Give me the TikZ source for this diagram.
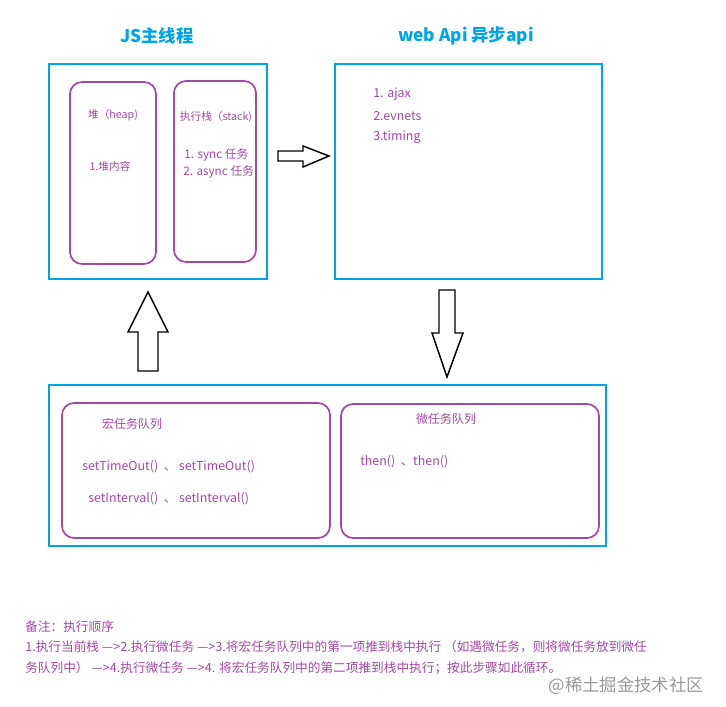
\documentclass[tikz,border=0pt]{standalone}
\usepackage{fontspec}
\setmainfont{Noto Sans CJK SC}
\usepackage{tikz}

\definecolor{paintblue}{RGB}{0,162,232}
\definecolor{paintpurple}{RGB}{163,73,164}

\tikzset{
  bluebox/.style={draw=paintblue, line width=1.6pt},
  purplebox/.style={draw=paintpurple, line width=1.3pt, rounded corners=9pt},
  blockarrow/.style={draw=black, line width=1.1pt, fill=white},
  title/.style={text=paintblue, font=\fontsize{13}{15}\selectfont\bfseries, inner sep=0.75pt},
  boxtext/.style={text=paintpurple, font=\fontsize{8}{10}\selectfont, inner sep=0.75pt},
  itemtext/.style={boxtext, font=\fontsize{9.3}{11}\selectfont, anchor=west},
  notetext/.style={text=paintpurple, font=\fontsize{9.5}{11}\selectfont, inner sep=0.75pt, anchor=west},
}

\begin{document}
\begin{tikzpicture}[x=0.75pt,y=0.75pt,yscale=-1,xscale=1]
%set diagram left start at 0, and has height of 707
\path (0,0) rectangle (726,707);

% Text Node
\node [title] (jstitle) at (157,36) {JS主线程};
% Text Node
\node [title] (webtitle) at (466,36) {web Api 异步api};

%Shape: Rectangle [id:main]
\draw [bluebox] (49,64) rectangle (267,279);
%Shape: Rectangle [id:heap]
\draw [purplebox] (70,82) rectangle (156,264);
%Shape: Rectangle [id:stack]
\draw [purplebox] (174,81) rectangle (256,262);

% Text Node
\node [boxtext] (heaplabel) at (113,115) {堆（heap)};
\node [boxtext] (heapitem) at (110,166) {1.堆内容};
\node [boxtext] (stacklabel) at (216,117) {执行栈（stack)};
\node [boxtext, font=\fontsize{8.8}{10}\selectfont, anchor=west] (sync) at (183,155) {1. sync 任务};
\node [boxtext, font=\fontsize{8.8}{10}\selectfont, anchor=west] (async) at (182,172) {2. async 任务};

%Shape: Right Arrow [id:toweb]
\draw [blockarrow] (278,151) -- (303,151) -- (303,146) -- (329,156) -- (303,167) -- (303,161) -- (278,161) -- cycle ;

%Shape: Rectangle [id:webapi]
\draw [bluebox] (335,64) rectangle (602,279);
% Text Node
\node [itemtext] (ajax) at (372,94) {1. ajax};
\node [itemtext] (events) at (372,116) {2.evnets};
\node [itemtext] (timing) at (372,137) {3.timing};

%Shape: Down Arrow [id:toqueue]
\draw [blockarrow] (439,290) -- (455,290) -- (455,333) -- (463,333) -- (447,377) -- (432,333) -- (439,333) -- cycle ;
%Shape: Up Arrow [id:tomain]
\draw [blockarrow] (138,371) -- (158,371) -- (158,332) -- (168,332) -- (148,292) -- (128,332) -- (138,332) -- cycle ;

%Shape: Rectangle [id:queues]
\draw [bluebox] (49,385) rectangle (606,546);
%Shape: Rectangle [id:macro]
\draw [purplebox] (62,403) rectangle (330,538);
%Shape: Rectangle [id:micro]
\draw [purplebox] (341,404) rectangle (599,538);

% Text Node
\node [boxtext, font=\fontsize{9}{11}\selectfont] (macrolabel) at (132,424) {宏任务队列};
\node [itemtext] (timeout) at (81,467) {setTimeOut() \ 、 setTimeOut()};
\node [itemtext] (interval) at (87,499) {setInterval() \ 、 setInterval()};
\node [boxtext, font=\fontsize{9}{11}\selectfont] (microlabel) at (446,419) {微任务队列};
\node [itemtext] (then) at (359,462) {then() \ 、then()};

% Text Node
\node [notetext] (notehead) at (24,627) {备注：执行顺序};
\node [notetext] (noteone) at (24,647) {1.执行当前栈 —>2.执行微任务 —>3.将宏任务队列中的第一项推到栈中执行 （如遇微任务，则将微任务放到微任};
\node [notetext] (notetwo) at (24,668) {务队列中） —>4.执行微任务 —>4. 将宏任务队列中的第二项推到栈中执行；按此步骤如此循环。};
\node [text=black!40, font=\fontsize{13}{15}\selectfont, inner sep=0.75pt, anchor=east] (mark) at (705,686) {@稀土掘金技术社区};

\end{tikzpicture}
\end{document}
